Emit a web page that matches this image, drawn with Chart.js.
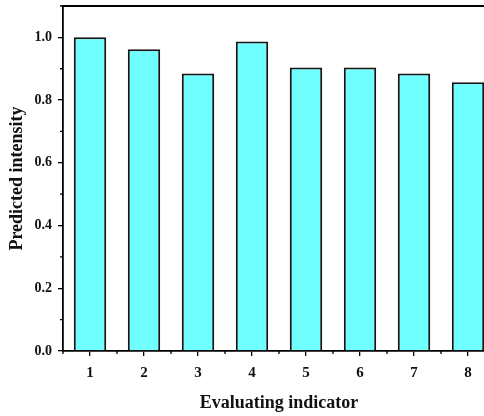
<!DOCTYPE html>
<html>
<head>
<meta charset="utf-8">
<script src="https://cdn.jsdelivr.net/npm/chart.js@4/dist/chart.umd.min.js"></script>
<style>
  html, body { margin: 0; padding: 0; background: #fff; overflow: hidden; }
  #wrap { width: 498px; height: 416px; }
</style>
</head>
<body>
<div id="wrap"><canvas id="myChart"></canvas></div>
<script>
// data
const indicators = ['1', '2', '3', '4', '5', '6', '7', '8'];
const intensity = [1.0, 0.962, 0.885, 0.987, 0.904, 0.904, 0.885, 0.857];
const yTicks = [0, 0.2, 0.4, 0.6, 0.8, 1.0];

const serif = "'Liberation Serif', 'Times New Roman', serif";

// minor ticks + top frame line
const framePlugin = {
    id: 'frame',
    afterDraw(chart) {
        const c = chart.ctx;
        const a = chart.chartArea;
        const x = chart.scales.x;
        const y = chart.scales.y;
        c.save();
        c.strokeStyle = '#000';
        c.lineWidth = 1.8;
        c.beginPath();
        c.moveTo(a.left, a.top);
        c.lineTo(a.right, a.top);
        c.lineTo(a.right, a.bottom);
        c.stroke();
        c.lineWidth = 1.3;
        c.beginPath();
        // minor x ticks between categories
        for (let i = 0; i <= indicators.length; i++) {
            const px = x.getPixelForValue(i - 0.5);
            c.moveTo(px, a.bottom);
            c.lineTo(px, a.bottom + 3);
        }
        // minor y ticks at odd tenths
        for (let v = 0.1; v < 1.1; v += 0.2) {
            const py = y.getPixelForValue(v);
            c.moveTo(a.left, py);
            c.lineTo(a.left - 3, py);
        }
        c.stroke();
        c.restore();
    }
};

const ctx = document.getElementById('myChart').getContext('2d');
new Chart(ctx, {
    type: 'bar',
    data: {
        labels: indicators,
        datasets: [{
            data: intensity,
            backgroundColor: '#70ffff',
            borderColor: '#151515',
            borderWidth: 2,
            categoryPercentage: 0.6,
            barPercentage: 1.0
        }]
    },
    options: {
        responsive: true,
        maintainAspectRatio: false,
        animation: false,
        layout: { padding: { top: 6, right: 3, left: 0, bottom: 0 } },
        plugins: { legend: { display: false }, tooltip: { enabled: false } },
        scales: {
            x: {
                grid: { display: true, drawOnChartArea: false, offset: false, tickLength: 5, color: '#000', lineWidth: 1.3 },
                border: { display: true, color: '#000', width: 1.8 },
                ticks: { color: '#111', font: { family: serif, size: 15, weight: 'bold' }, padding: 8, maxRotation: 0 },
                title: { display: true, text: 'Evaluating indicator', color: '#111',
                         font: { family: serif, size: 18, weight: 'bold' }, padding: { top: 0, bottom: 2 } },
                afterFit(scale) { scale.height = 65; scale.paddingLeft = 0; scale.paddingRight = 0; }
            },
            y: {
                min: 0,
                max: 1.1,
                afterBuildTicks(scale) { scale.ticks = yTicks.map(v => ({ value: v })); },
                grid: { display: true, drawOnChartArea: false, tickLength: 5, color: '#000', lineWidth: 1.3 },
                border: { display: true, color: '#000', width: 1.8 },
                ticks: { color: '#111', font: { family: serif, size: 14, weight: 'bold' }, padding: 6,
                         callback: v => v.toFixed(1) },
                title: { display: true, text: 'Predicted intensity', color: '#111',
                         font: { family: serif, size: 18, weight: 'bold' }, padding: { top: 7, bottom: 0 } },
                afterFit(scale) { scale.width = 63; scale.paddingTop = 0; scale.paddingBottom = 0; }
            }
        }
    },
    plugins: [framePlugin]
});
</script>
</body>
</html>
